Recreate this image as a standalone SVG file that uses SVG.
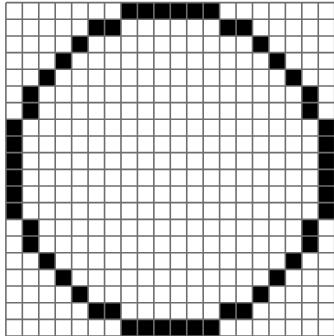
<svg xmlns="http://www.w3.org/2000/svg" width="334" height="336" viewBox="0 0 334 336">
<style>
.cells{fill:#000}
.grid{fill:none;stroke:#6e6e6e;stroke-width:1.6}
</style>
<rect width="334" height="336" fill="#fff"/>
<g transform="translate(5.9,2.63) scale(16.44,16.67)">
<path class="cells" d="M7 0h6v1h-6z M5 1h2v1h-2z M13 1h2v1h-2z M4 2h1v1h-1z M15 2h1v1h-1z M3 3h1v1h-1z M16 3h1v1h-1z M2 4h1v1h-1z M17 4h1v1h-1z M1 5h1v2h-1z M18 5h1v2h-1z M0 7h1v6h-1z M19 7h1v6h-1z M1 13h1v2h-1z M18 13h1v2h-1z M2 15h1v1h-1z M17 15h1v1h-1z M3 16h1v1h-1z M16 16h1v1h-1z M4 17h1v1h-1z M15 17h1v1h-1z M5 18h2v1h-2z M13 18h2v1h-2z M7 19h6v1h-6z"/>
<path class="grid" vector-effect="non-scaling-stroke" d="M0 0V20M1 0V20M2 0V20M3 0V20M4 0V20M5 0V20M6 0V20M7 0V20M8 0V20M9 0V20M10 0V20M11 0V20M12 0V20M13 0V20M14 0V20M15 0V20M16 0V20M17 0V20M18 0V20M19 0V20M20 0V20M0 0H20M0 1H20M0 2H20M0 3H20M0 4H20M0 5H20M0 6H20M0 7H20M0 8H20M0 9H20M0 10H20M0 11H20M0 12H20M0 13H20M0 14H20M0 15H20M0 16H20M0 17H20M0 18H20M0 19H20M0 20H20"/>
</g>
</svg>
